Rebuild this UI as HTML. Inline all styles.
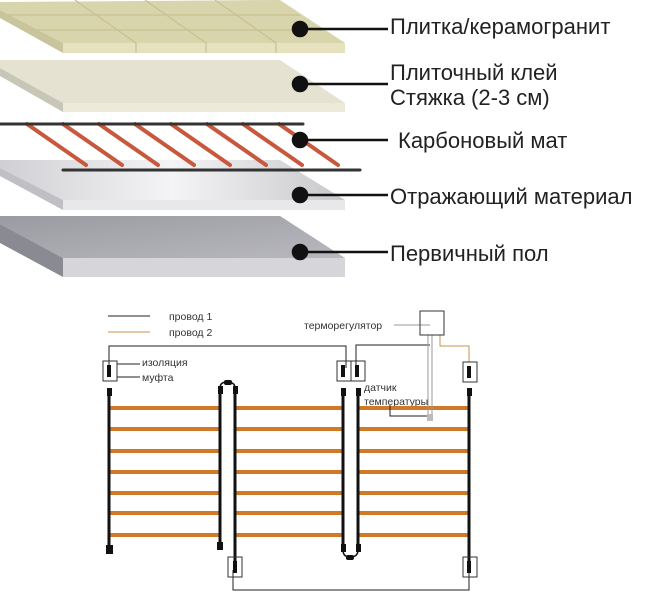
<!DOCTYPE html>
<html><head><meta charset="utf-8"><style>
html,body{margin:0;padding:0;background:#fff}
svg{display:block}
text{font-family:"Liberation Sans",sans-serif}
</style></head><body>
<svg width="646" height="597" viewBox="0 0 646 597" xmlns="http://www.w3.org/2000/svg">
<defs>
<linearGradient id="silver" x1="0" x2="1" y1="0" y2="0">
<stop offset="0" stop-color="#d0d0d4"/><stop offset="0.5" stop-color="#f4f4f6"/><stop offset="1" stop-color="#c8c8cc"/>
</linearGradient>
<linearGradient id="gray" x1="0" x2="1" y1="0" y2="1">
<stop offset="0" stop-color="#9a9aa2"/><stop offset="1" stop-color="#b8b8be"/>
</linearGradient>
</defs>
<polygon points="0,2 280,0 345,43 63,43 0,10" fill="#d8d4ac"/>
<polygon points="0,10 63,43 63,53 0,18" fill="#c8c49c"/>
<rect x="63" y="43" width="282" height="10" fill="#e6e2c0"/>
<g stroke="#c8c090" stroke-width="1.2" fill="none">
<line x1="8" y1="15" x2="300" y2="15"/><line x1="30" y1="30" x2="322" y2="30"/>
<line x1="75" y1="0" x2="136" y2="43"/><line x1="145" y1="0" x2="206" y2="43"/><line x1="215" y1="0" x2="276" y2="43"/>
<line x1="136" y1="43" x2="136" y2="53"/><line x1="206" y1="43" x2="206" y2="53"/><line x1="276" y1="43" x2="276" y2="53"/>
</g>
<polygon points="0,60 280,60 345,103 63,103 0,68" fill="#e6e2d2"/>
<polygon points="0,68 63,103 63,112 0,76" fill="#c8c6b6"/>
<rect x="63" y="103" width="282" height="9" fill="#eeeada"/>
<polygon points="0,160 280,160 345,200 63,200 0,168" fill="url(#silver)"/>
<polygon points="0,168 63,200 63,210 0,176" fill="#c0c0c4"/>
<rect x="63" y="200" width="282" height="10" fill="#e8e8ea"/>
<g stroke="#c8583c" stroke-width="4" stroke-linecap="round">
<line x1="27" y1="124" x2="86" y2="165"/><line x1="63" y1="124" x2="122" y2="165"/><line x1="99" y1="124" x2="158" y2="165"/>
<line x1="135" y1="124" x2="194" y2="165"/><line x1="171" y1="124" x2="230" y2="165"/><line x1="207" y1="124" x2="266" y2="165"/>
<line x1="243" y1="124" x2="302" y2="165"/><line x1="279" y1="124" x2="338" y2="165"/>
</g>
<line x1="0" y1="124" x2="303" y2="124" stroke="#333" stroke-width="3" stroke-linecap="round"/>
<line x1="63" y1="170" x2="360" y2="170" stroke="#333" stroke-width="3" stroke-linecap="round"/>
<polygon points="0,216 280,216 345,258 63,258 0,224" fill="url(#gray)"/>
<polygon points="0,224 63,258 63,277 0,243" fill="#8a8a92"/>
<rect x="63" y="258" width="282" height="19" fill="#d6d6da"/>
<g fill="#111" stroke="#111" stroke-width="2.5">
<circle cx="300" cy="29" r="7"/><line x1="300" y1="29" x2="388" y2="29"/>
<circle cx="300" cy="84" r="7"/><line x1="300" y1="84" x2="388" y2="84"/>
<circle cx="300" cy="140" r="7"/><line x1="300" y1="140" x2="388" y2="140"/>
<circle cx="300" cy="195" r="7"/><line x1="300" y1="195" x2="388" y2="195"/>
<circle cx="300" cy="252" r="7"/><line x1="300" y1="252" x2="388" y2="252"/>
</g>
<g font-size="22" fill="#222">
<text x="390" y="34">Плитка/керамогранит</text>
<text x="390" y="80">Плиточный клей</text>
<text x="390" y="105">Стяжка (2-3 см)</text>
<text x="398" y="148">Карбоновый мат</text>
<text x="390" y="204">Отражающий материал</text>
<text x="390" y="261">Первичный пол</text>
</g>
<g font-size="10.5" fill="#333">
<text x="169" y="320">провод 1</text>
<text x="169" y="336">провод 2</text>
<text x="142" y="366">изоляция</text>
<text x="142" y="381">муфта</text>
<text x="304" y="329">терморегулятор</text>
<text x="364" y="391">датчик</text>
<text x="364" y="405">температуры</text>
</g>
<line x1="108" y1="316" x2="150" y2="316" stroke="#222" stroke-width="1"/>
<line x1="108" y1="332" x2="150" y2="332" stroke="#c89050" stroke-width="1"/>
<g stroke="#d07a28" stroke-width="4">
<line x1="109" y1="408" x2="220" y2="408"/><line x1="109" y1="429" x2="220" y2="429"/><line x1="109" y1="451" x2="220" y2="451"/><line x1="109" y1="472" x2="220" y2="472"/><line x1="109" y1="493" x2="220" y2="493"/><line x1="109" y1="513" x2="220" y2="513"/><line x1="109" y1="535" x2="220" y2="535"/>
<line x1="235" y1="408" x2="343" y2="408"/><line x1="235" y1="429" x2="343" y2="429"/><line x1="235" y1="451" x2="343" y2="451"/><line x1="235" y1="472" x2="343" y2="472"/><line x1="235" y1="493" x2="343" y2="493"/><line x1="235" y1="513" x2="343" y2="513"/><line x1="235" y1="535" x2="343" y2="535"/>
<line x1="358" y1="408" x2="469" y2="408"/><line x1="358" y1="429" x2="469" y2="429"/><line x1="358" y1="451" x2="469" y2="451"/><line x1="358" y1="472" x2="469" y2="472"/><line x1="358" y1="493" x2="469" y2="493"/><line x1="358" y1="513" x2="469" y2="513"/><line x1="358" y1="535" x2="469" y2="535"/>
</g>
<g stroke="#111" stroke-width="3">
<line x1="109" y1="388" x2="109" y2="548"/>
<line x1="220" y1="386" x2="220" y2="545"/>
<line x1="235" y1="386" x2="235" y2="565"/>
<line x1="343" y1="388" x2="343" y2="552"/>
<line x1="358" y1="388" x2="358" y2="552"/>
<line x1="469" y1="388" x2="469" y2="565"/>
</g>
<g fill="#111">
<rect x="106" y="545" width="7" height="9"/>
<rect x="217" y="542" width="6" height="8"/>
<rect x="107" y="388" width="5" height="8"/><rect x="218" y="386" width="5" height="8"/><rect x="233" y="386" width="5" height="8"/>
<rect x="341" y="388" width="5" height="8"/><rect x="356" y="388" width="5" height="8"/><rect x="467" y="388" width="5" height="8"/>
<rect x="341" y="544" width="5" height="8"/><rect x="356" y="544" width="5" height="8"/>
<rect x="224" y="380" width="8" height="5" rx="2"/><rect x="346" y="555" width="8" height="5" rx="2"/>
</g>
<path d="M220,388 Q220,382 227,382 Q235,382 235,388" fill="none" stroke="#111" stroke-width="1.5"/>
<path d="M343,550 Q343,557 350,557 Q358,557 358,550" fill="none" stroke="#111" stroke-width="1.5"/>
<g fill="none" stroke="#222" stroke-width="1">
<polyline points="109,368 109,346 346,346 346,368"/>
<polyline points="356,368 356,345 430,345"/>
<polyline points="233,570 233,590 469,590 469,570"/>
<line x1="117" y1="364" x2="140" y2="364"/>
<line x1="117" y1="377" x2="140" y2="377"/>
<polyline points="390,405 390,416 430,416"/>
</g>
<line x1="394" y1="325" x2="430" y2="325" stroke="#999" stroke-width="1"/>
<polyline points="440,335 440,346 469,346 469,362" fill="none" stroke="#c89050" stroke-width="1"/>
<g stroke="#999" stroke-width="1"><line x1="428" y1="335" x2="428" y2="420"/><line x1="432" y1="335" x2="432" y2="420"/></g>
<rect x="427" y="414" width="6" height="7" fill="#bbb"/>
<g fill="none" stroke="#333" stroke-width="1">
<rect x="420" y="311" width="24" height="24"/>
<rect x="103" y="361" width="14" height="20"/>
<rect x="337" y="361" width="14" height="20"/>
<rect x="351" y="361" width="14" height="20"/>
<rect x="463" y="362" width="14" height="20"/>
<rect x="228" y="557" width="14" height="20"/>
<rect x="463" y="557" width="14" height="20"/>
</g>
<g fill="#111">
<rect x="107" y="365" width="4" height="12"/><rect x="341" y="365" width="4" height="12"/><rect x="355" y="365" width="4" height="12"/>
<rect x="467" y="366" width="4" height="12"/><rect x="233" y="561" width="4" height="12"/><rect x="467" y="561" width="4" height="12"/>
</g>
</svg>
</body></html>
